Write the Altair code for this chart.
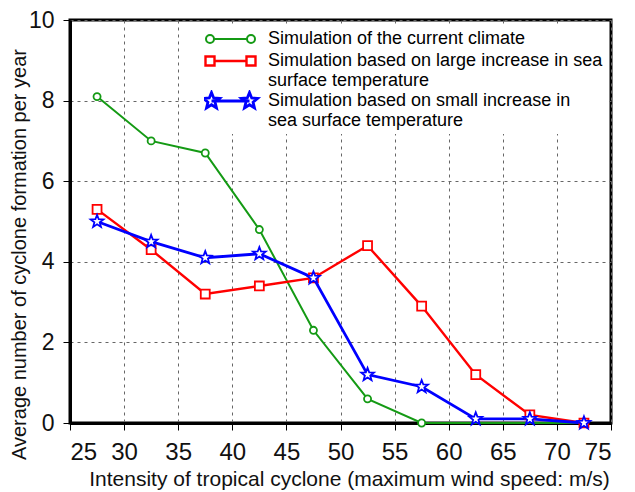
import math
import altair as alt
import pandas as pd

# ---- data ----
wind_speed = [27.5, 32.5, 37.5, 42.5, 47.5, 52.5, 57.5, 62.5, 67.5, 72.5]
current_climate = [8.1, 7.0, 6.7, 4.8, 2.3, 0.6, 0.0, 0.0, 0.0, 0.0]
large_increase = [5.3, 4.3, 3.2, 3.4, 3.6, 4.4, 2.9, 1.2, 0.2, 0.0]
small_increase = [5.0, 4.5, 4.1, 4.2, 3.6, 1.2, 0.9, 0.1, 0.1, 0.0]
green_marker_last = 57.5  # green markers stop here, the line continues along 0

series_names = [
    "Simulation of the current climate",
    "Simulation based on large increase in sea\nsurface temperature",
    "Simulation based on small increase in\nsea surface temperature",
]
series_values = [current_climate, large_increase, small_increase]
series_colors = ["#149a14", "#ff0000", "#0000ff"]
series_widths = [2.0, 2.8, 2.5]
series_sizes = [50, 80, 180]
x_ticks = [25, 30, 35, 40, 45, 50, 55, 60, 65, 70, 75]
y_ticks = [0, 2, 4, 6, 8, 10]

rows = []
for name, vals in zip(series_names, series_values):
    for xv, yv in zip(wind_speed, vals):
        show = not (name == series_names[0] and xv > green_marker_last)
        rows.append({"series": name, "speed": xv, "count": yv, "marker": show})
df = pd.DataFrame(rows)

# ---- symbol paths ----
def circle_at(cx, r):
    return (f"M{cx + r:.3f},0A{r},{r} 0 1,0 {cx - r:.3f},0"
            f"A{r},{r} 0 1,0 {cx + r:.3f},0Z")

def square_at(cx, h):
    return f"M{cx - h:.3f},{-h:.3f}H{cx + h:.3f}V{h:.3f}H{cx - h:.3f}Z"

def star_at(cx, ro, ri):
    pts = []
    for i in range(10):
        r = ro if i % 2 == 0 else ri
        a = -math.pi / 2 + i * math.pi / 5
        pts.append(f"{cx + r * math.cos(a):.3f},{r * math.sin(a):.3f}")
    return "M" + "L".join(pts) + "Z"

star_marker = star_at(0, 1.0, 0.42)
series_shapes = ["circle", "square", star_marker]

# legend symbols: a line with a marker at each end (unit = 25px)
c_r, c_x = 0.16, 0.82
path_circle = f"M{-c_x + c_r:.3f},0L{c_x - c_r:.3f},0" + circle_at(-c_x, c_r) + circle_at(c_x, c_r)
s_h, s_x = 0.18, 0.82
path_square = f"M{-s_x + s_h:.3f},0L{s_x - s_h:.3f},0" + square_at(-s_x, s_h) + square_at(s_x, s_h)
t_o, t_i, t_x = 0.34, 0.15, 0.76
path_star = f"M{-t_x:.3f},0L{t_x:.3f},0" + star_at(-t_x, t_o, t_i) + star_at(t_x, t_o, t_i)
legend_paths = [path_circle, path_square, path_star]

FONT = "Liberation Sans"

x_enc = alt.X(
    "speed:Q",
    scale=alt.Scale(domain=[25, 75], nice=False, zero=False),
    axis=alt.Axis(
        values=x_ticks, title="Intensity of tropical cyclone (maximum wind speed: m/s)",
        grid=True, gridDash=[3, 4], gridColor="#666666", gridWidth=1,
        domainColor="black", domainWidth=3, tickColor="black", tickSize=7, tickWidth=1,
        labelFont=FONT, labelFontSize=24, labelColor="#111111", labelPadding=10,
        titleFont=FONT, titleFontSize=21, titleFontWeight="normal", titleColor="#111111",
        titleY=45, titleX=279,
    ),
)
y_enc = alt.Y(
    "count:Q",
    scale=alt.Scale(domain=[0, 10], nice=False),
    axis=alt.Axis(
        values=y_ticks, title="Average number of cyclone formation per year",
        grid=True, gridDash=[3, 4], gridColor="#666666", gridWidth=1,
        domainColor="black", domainWidth=3, tickColor="black", tickSize=7, tickWidth=1,
        labelFont=FONT, labelFontSize=23, labelColor="#111111", labelPadding=9,
        titleFont=FONT, titleFontSize=20, titleFontWeight="normal", titleColor="#111111",
        titleX=-41, titleY=234,
    ),
)

legend = alt.Legend(
    title=None, orient="none", legendX=130, legendY=4, direction="vertical",
    fillColor="white", padding=4,
    labelFont=FONT, labelFontSize=18, labelColor="black", labelLimit=440,
    labelExpr="split(datum.label, '\\n')", labelOffset=11,
    symbolSize=2500, symbolStrokeWidth=1.8, symbolFillColor="white",
    clipHeight=22, rowPadding=0,
)

color_scale = alt.Scale(domain=series_names, range=series_colors)

# legend-only layer (no data rows drawn), listed first so its legend is used
legend_layer = alt.Chart(df).transform_filter("false").mark_point(
    filled=False, fill="white", fillOpacity=1, opacity=1,
).encode(
    x=x_enc, y=y_enc,
    color=alt.Color("series:N", scale=color_scale, legend=legend),
    shape=alt.Shape("series:N", scale=alt.Scale(domain=series_names, range=legend_paths), legend=legend),
)

lines = alt.Chart(df).mark_line().encode(
    x="speed:Q", y="count:Q",
    color=alt.Color("series:N", scale=color_scale, legend=None),
    strokeWidth=alt.StrokeWidth("series:N", scale=alt.Scale(domain=series_names, range=series_widths), legend=None),
    order=alt.Order("speed:Q"),
)

point_layers = []
for name, shp, sz in zip(series_names, series_shapes, series_sizes):
    point_layers.append(
        alt.Chart(df).transform_filter(
            alt.FieldEqualPredicate(field="series", equal=name)
        ).transform_filter("datum.marker").mark_point(
            filled=False, fill="white", fillOpacity=1, strokeWidth=1.8, opacity=1,
            shape=shp, size=sz,
        ).encode(
            x="speed:Q", y="count:Q",
            color=alt.Color("series:N", scale=color_scale, legend=None),
        )
    )

chart = alt.layer(legend_layer, lines, *point_layers).properties(
    width=541, height=403,
    autosize=alt.AutoSizeParams(type="none"),
    padding={"left": 62, "top": 12, "right": 10, "bottom": 69},
    background="white",
).configure_view(stroke="black", strokeWidth=3)

chart.save("out.html", embed_options={"renderer": "svg", "actions": False})
